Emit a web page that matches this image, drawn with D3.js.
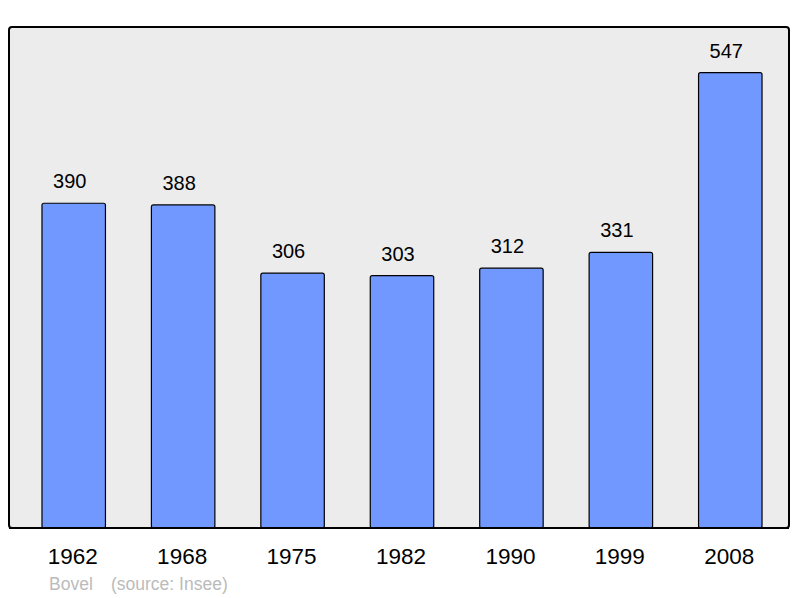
<!DOCTYPE html>
<html><head><meta charset="utf-8">
<script src="https://cdn.jsdelivr.net/npm/d3@7"></script>
<style>body{margin:0;background:#fff}svg{display:block}</style>
</head><body>
<script>
const years = ["1962","1968","1975","1982","1990","1999","2008"];
const population = [390,388,306,303,312,331,547];
const caption = "Bovel";
const source = "(source: Insee)";

const W = 800, H = 598;
const svg = d3.select("body").append("svg").attr("width", W).attr("height", H);
const font = "'Liberation Sans', Arial, sans-serif";

const x = d3.scaleBand().domain(years).range([19, 785]).paddingInner(0.42).paddingOuter(0.21);
const y = d3.scaleLinear().domain([0, d3.max(population) * 1.1]).range([528, 27]);

svg.append("rect").attr("x", 9).attr("y", 27).attr("width", 780).attr("height", 501)
  .attr("rx", 3).attr("fill", "#ececec").attr("stroke", "#000").attr("stroke-width", 2);

const g = svg.append("g");
g.selectAll("rect.bar").data(years).join("rect").attr("class","bar")
  .attr("x", d => x(d)).attr("width", x.bandwidth())
  .attr("y", (d,i) => y(population[i])).attr("height", (d,i) => y(0) - y(population[i]))
  .attr("rx", 2).attr("fill", "#7098ff").attr("stroke", "#000").attr("stroke-width", 1.2);

g.selectAll("text.val").data(years).join("text").attr("class","val")
  .attr("x", d => x(d) + x.bandwidth()/2 - 4).attr("y", (d,i) => y(population[i]) - 15)
  .attr("text-anchor","middle").attr("font-family", font).attr("font-size", 20).attr("fill","#000")
  .text((d,i) => population[i]);

svg.append("line").attr("x1", 9).attr("x2", 789).attr("y1", 528).attr("y2", 528)
  .attr("stroke","#000").attr("stroke-width",2);

const axis = d3.axisBottom(x).tickSize(0).tickPadding(0);
const ax = svg.append("g").attr("transform","translate(-1,548)").call(axis);
ax.select(".domain").remove();
ax.selectAll("text").attr("font-family", font).attr("font-size", 22.5).attr("fill","#000").attr("dy","0.71em");

svg.append("text").attr("x", 49).attr("y", 590).attr("font-family", font).attr("font-size", 17.5)
  .attr("fill","#bbb").text(caption);
svg.append("text").attr("x", 111).attr("y", 590).attr("font-family", font).attr("font-size", 17.5)
  .attr("fill","#bbb").text(source);
</script>
</body></html>
